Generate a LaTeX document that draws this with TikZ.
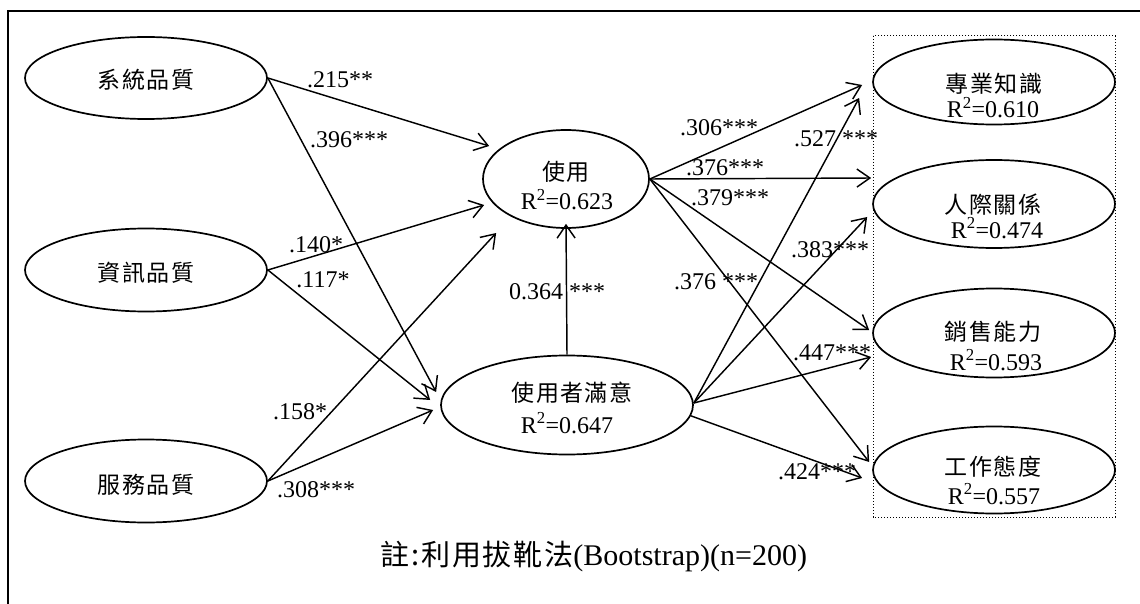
\documentclass[tikz,border=0pt]{standalone}
\usepackage{fontspec}
\setmainfont{Liberation Serif}
\newfontfamily\cjk{Noto Sans CJK TC}[LetterSpace=6]
\usetikzlibrary{arrows.meta,shapes.geometric}
\begin{document}
\begin{tikzpicture}[x=1pt,y=-1pt,
  ell/.style={draw, ellipse, line width=1.7pt, inner sep=0pt},
  arr/.style={-{Straight Barb[length=13pt,width=18pt]}, line width=1.45pt},
  num/.style={font=\fontsize{24}{28}\selectfont, inner sep=0pt},
  cj/.style={font=\cjk\fontsize{23}{28}\selectfont, inner sep=0pt},
  rsq/.style={font=\fontsize{24}{28}\selectfont, inner sep=0pt, anchor=base},
  frame/.style={line width=1.8pt},
  group/.style={line width=1pt, dash pattern=on 1.3pt off 1.7pt}
]
\useasboundingbox (0,0) rectangle (1140,604);
\clip (0,0) rectangle (1140,604);
\draw[frame] (8,11) rectangle (1170,630);
\draw[group] (873,36) rectangle (1115,517);

% ellipses
\node[ell, minimum width=242pt, minimum height=82pt] (sq)  at (146,78)  {};
\node[ell, minimum width=242pt, minimum height=83pt] (iq)  at (146,270) {};
\node[ell, minimum width=242pt, minimum height=83pt] (svq) at (146,481) {};
\node[ell, minimum width=166pt, minimum height=98pt] (use) at (566,179) {};
\node[ell, minimum width=252pt, minimum height=99pt] (sat) at (567,405) {};
\node[ell, minimum width=242pt, minimum height=85pt] (pk)  at (994,82)  {};
\node[ell, minimum width=242pt, minimum height=88pt] (ir)  at (994,204) {};
\node[ell, minimum width=242pt, minimum height=89pt] (sa)  at (994,333) {};
\node[ell, minimum width=242pt, minimum height=87pt] (wa)  at (994,470) {};

% ellipse texts
\node[cj] (sq-t)  at (146,80)  {系統品質};
\node[cj] (iq-t)  at (146,273) {資訊品質};
\node[cj] (svq-t) at (146,485) {服務品質};
\node[cj] (use-t) at (566,172) {使用};
\node[rsq] (use-r) at (567,210) {R\textsuperscript{2}=0.623};
\node[cj] (sat-t) at (572,393) {使用者滿意};
\node[rsq] (sat-r) at (567,433) {R\textsuperscript{2}=0.647};
\node[cj] (pk-t) at (994,84) {專業知識};
\node[rsq] (pk-r) at (993,118) {R\textsuperscript{2}=0.610};
\node[cj] (ir-t) at (993,205) {人際關係};
\node[rsq] (ir-r) at (997,238) {R\textsuperscript{2}=0.474};
\node[cj] (sa-t) at (993,332) {銷售能力};
\node[rsq] (sa-r) at (996,370) {R\textsuperscript{2}=0.593};
\node[cj] (wa-t) at (993,467) {工作態度};
\node[rsq] (wa-r) at (994,504) {R\textsuperscript{2}=0.557};

% connectors
\draw[arr] (sq.east) -- ([shift={(7,-33)}]use.west);
\draw[arr] (sq.east) -- ([shift={(-4,-13)}]sat.west);
\draw[arr] (iq.east) -- ([shift={(2,26)}]use.west);
\draw[arr] (iq.east) -- ([shift={(-10,-5)}]sat.west);
\draw[arr] (svq.east) -- ([shift={(14,54)}]use.west);
\draw[arr] (svq.east) -- ([shift={(-7,5)}]sat.west);
\draw[arr] (sat.north) -- ([yshift=5]use.south);

\draw[arr] (use.east) -- ([shift={(-10,3)}]pk.west);
\draw[arr] (use.east) -- ([shift={(-1,-26)}]ir.west);
\draw[arr] (use.east) -- ([shift={(-3,-3)}]sa.west);
\draw[arr] (use.east) -- ([shift={(-3,-8)}]wa.west);
\draw[arr] ([shift={(0,-2)}]sat.east) -- ([shift={(-13,16)}]pk.west);
\draw[arr] ([shift={(0,-2)}]sat.east) -- ([shift={(-5,13)}]ir.west);
\draw[arr] ([shift={(0,-2)}]sat.east) -- ([shift={(-1,24)}]sa.west);
\draw[arr] (sat.-5) -- ([shift={(-10,8)}]wa.west);

% path coefficients
\node[num] (c1)  at (340,80)  {.215**};
\node[num] (c2)  at (349,140) {.396***};
\node[num] (c3)  at (316,245) {.140*};
\node[num] (c4)  at (323,280) {.117*};
\node[num] (c5)  at (300,412) {.158*};
\node[num] (c6)  at (316,490) {.308***};
\node[num] (c7)  at (557,292) {0.364 ***};
\node[num] (c8)  at (719,128) {.306***};
\node[num] (c9)  at (725,168) {.376***};
\node[num] (c10) at (730,198) {.379***};
\node[num] (c11) at (836,139) {.527 ***};
\node[num] (c12) at (830,250) {.383***};
\node[num] (c13) at (716,282) {.376 ***};
\node[num] (c14) at (832,353) {.447***};
\node[num] (c15) at (817,472) {.424***};

% note
\node[inner sep=0pt, font=\fontsize{30}{34}\selectfont] (note) at (594,557)
  {{\cjk\fontsize{29}{34}\selectfont 註:利用拔靴法}(Bootstrap)(n=200)};
\end{tikzpicture}
\end{document}
